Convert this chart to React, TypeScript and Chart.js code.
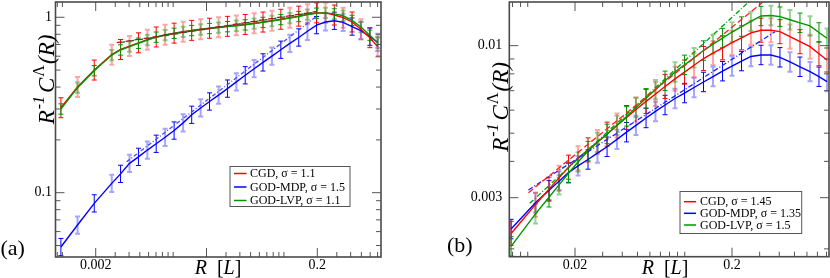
import React, { useEffect, useRef } from "react";
import { Chart, registerables } from "chart.js";

Chart.register(...registerables);

// ---------------- Panel (a) data ----------------
const rA = [0.00097, 0.00137, 0.00194, 0.00279, 0.00335, 0.00404, 0.00486, 0.00585, 0.00703, 0.00846, 0.0102, 0.0123, 0.0147, 0.0177, 0.0213, 0.0257, 0.0309, 0.0372, 0.0447, 0.0538, 0.0647, 0.0779, 0.0937, 0.113, 0.136, 0.163, 0.197, 0.237, 0.285, 0.342, 0.412, 0.495, 0.596, 0.701];
const cgdA = [0.305, 0.4, 0.5, 0.612, 0.655, 0.685, 0.715, 0.745, 0.772, 0.794, 0.812, 0.828, 0.842, 0.855, 0.866, 0.877, 0.888, 0.899, 0.91, 0.924, 0.939, 0.956, 0.974, 0.994, 1.015, 1.04, 1.06, 1.06, 1.03, 0.995, 0.94, 0.855, 0.765, 0.68];
const mdpA = [0.049, 0.0654, 0.0869, 0.113, 0.128, 0.147, 0.16, 0.175, 0.19, 0.207, 0.226, 0.25, 0.278, 0.304, 0.331, 0.36, 0.392, 0.428, 0.467, 0.509, 0.553, 0.601, 0.653, 0.71, 0.767, 0.832, 0.902, 0.94, 0.955, 0.935, 0.885, 0.84, 0.775, 0.72];
const lvpA = [0.3, 0.397, 0.496, 0.609, 0.651, 0.68, 0.711, 0.742, 0.77, 0.792, 0.81, 0.826, 0.84, 0.852, 0.863, 0.874, 0.884, 0.895, 0.905, 0.92, 0.935, 0.952, 0.97, 0.99, 1.01, 1.035, 1.055, 1.06, 1.045, 1.02, 0.96, 0.88, 0.79, 0.716];
const fitCgdRA = [0.0031, 0.2];
const fitCgdA = [0.716, 1.08];
const fitLvpRA = [0.0031, 0.2];
const fitLvpA = [0.712, 1.075];
const fitMdpRA = [0.0038, 0.2];
const fitMdpA = [0.15, 1.02];
const errA = [0.14, 0.12, 0.07];
const xTickLabelsA = [0.002, 0.2];
const yTickLabelsA = [0.1, 1];
const xMajorA = [0.002, 0.02, 0.2];
const yMajorA = [0.1, 1];
const legendA = ["CGD, σ = 1.1", "GOD-MDP, σ = 1.5", "GOD-LVP, σ = 1.1"];

// ---------------- Panel (b) data ----------------
const rB = [0.00783, 0.0112, 0.01366, 0.01582, 0.01818, 0.0209, 0.0242, 0.0278, 0.032, 0.037, 0.0426, 0.0489, 0.0567, 0.0651, 0.0749, 0.0867, 0.0997, 0.1146, 0.1317, 0.1514, 0.1741, 0.2, 0.23, 0.264, 0.306, 0.354, 0.404, 0.468, 0.542, 0.628, 0.716, 0.806];
const cgdB = [0.00226, 0.00284, 0.00321, 0.00351, 0.00382, 0.0041, 0.00438, 0.00466, 0.00496, 0.00531, 0.00566, 0.00603, 0.00643, 0.00682, 0.00724, 0.00769, 0.00811, 0.00856, 0.00903, 0.00943, 0.00983, 0.01024, 0.01064, 0.01107, 0.0113, 0.0113, 0.01117, 0.01074, 0.01032, 0.00992, 0.00938, 0.00893];
const mdpB = [0.00234, 0.00288, 0.00318, 0.00342, 0.00366, 0.00386, 0.00406, 0.00427, 0.00449, 0.00476, 0.00504, 0.00532, 0.00564, 0.00594, 0.00625, 0.00658, 0.00687, 0.00718, 0.0075, 0.00783, 0.00817, 0.00851, 0.00885, 0.00918, 0.00929, 0.00929, 0.00912, 0.00879, 0.00846, 0.00814, 0.00782, 0.00752];
const lvpB = [0.00204, 0.00264, 0.00301, 0.00332, 0.00364, 0.00398, 0.00434, 0.00465, 0.00497, 0.00532, 0.00571, 0.00613, 0.00659, 0.00706, 0.00757, 0.00812, 0.00859, 0.00909, 0.00962, 0.01012, 0.01062, 0.01114, 0.01163, 0.01212, 0.01265, 0.0127, 0.01258, 0.01228, 0.01198, 0.01169, 0.0111, 0.0106];
const fitCgdRB = [0.0101, 0.35];
const fitCgdB = [0.00312, 0.0148];
const fitMdpRB = [0.0101, 0.376];
const fitMdpB = [0.00319, 0.01117];
const fitLvpRB = [0.0103, 0.3];
const fitLvpB = [0.00287, 0.0153];
const errB = [0.1, 0.08, 0.08];
const xTickLabelsB = [0.02, 0.2];
const yTickLabelsB = [0.003, 0.01];
const xMajorB = [0.02, 0.2];
const yMajorB = [0.003, 0.01];
const legendB = ["CGD, σ = 1.45", "GOD-MDP, σ = 1.35", "GOD-LVP, σ = 1.5"];

const SERIF = "'Liberation Serif', 'Times New Roman', serif";
const COLORS = ["#ff0000", "#0000ff", "#009600"];
const PALE = ["rgba(255,40,40,0.42)", "rgba(40,40,255,0.42)", "rgba(0,150,0,0.42)"];

type Fit = { r: number[]; v: number[]; color: string; dash: number[]; offset?: number };
type Panel = {
  r: number[]; cgd: number[]; mdp: number[]; lvp: number[];
  fits: Fit[]; err: number[]; order: number[];
  xMin: number; xMax: number; yMin: number; yMax: number;
  xLabels: number[]; yLabels: number[]; xMajor: number[]; yMajor: number[];
  pad: { left: number; right: number; top: number; bottom: number };
  yAxisW: number; xAxisH: number; yTickPad: number;
  legend: string[];
  box: { x0: number; y0: number; x1: number; y1: number; rows: number[]; lx0: number; lx1: number; tx: number };
  yTitle: { x: number; y: number }; xTitle: { x: number; y: number };
  tag: string; tagPos: { x: number; y: number };
};

const panelA: Panel = {
  r: rA, cgd: cgdA, mdp: mdpA, lvp: lvpA, err: errA, order: [1, 2, 0],
  fits: [
    { r: fitCgdRA, v: fitCgdA, color: "#b01020", dash: [5, 4] },
    { r: fitLvpRA, v: fitLvpA, color: "#206020", dash: [4, 5], offset: 4.5 },
    { r: fitMdpRA, v: fitMdpA, color: "#4a4aff", dash: [4, 2, 1, 2] },
  ],
  xMin: 0.000867, xMax: 0.7516, yMin: 0.04299, yMax: 1.222,
  xLabels: xTickLabelsA, yLabels: yTickLabelsA, xMajor: xMajorA, yMajor: yMajorA,
  pad: { left: 0, right: 34, top: 2, bottom: 0 }, yAxisW: 55.5, xAxisH: 21, yTickPad: 3.5,
  legend: legendA,
  box: { x0: 230, y0: 166.5, x1: 350, y1: 206.5, rows: [173.5, 187, 200.5], lx0: 234, lx1: 246.5, tx: 250 },
  yTitle: { x: 54, y: 79.5 }, xTitle: { x: 218, y: 274 },
  tag: "(a)", tagPos: { x: 0.5, y: 255 },
};

const panelB: Panel = {
  r: rB, cgd: cgdB, mdp: mdpB, lvp: lvpB, err: errB, order: [1, 2, 0],
  fits: [
    { r: fitCgdRB, v: fitCgdB, color: "#ff2020", dash: [6, 3] },
    { r: fitMdpRB, v: fitMdpB, color: "#2020ff", dash: [5, 2, 1, 2] },
    { r: fitLvpRB, v: fitLvpB, color: "#00a000", dash: [5, 2, 1, 2] },
  ],
  xMin: 0.00763, xMax: 0.8296, yMin: 0.00188, yMax: 0.01413,
  xLabels: xTickLabelsB, yLabels: yTickLabelsB, xMajor: xMajorB, yMajor: yMajorB,
  pad: { left: 0, right: 1, top: 2, bottom: 0 }, yAxisW: 94.3, xAxisH: 21.3, yTickPad: 7,
  legend: legendB,
  box: { x0: 265, y0: 191.5, x1: 386.7, y1: 233.5, rows: [201.7, 213.3, 225], lx0: 269, lx1: 281, tx: 285 },
  yTitle: { x: 93, y: 107 }, xTitle: { x: 250, y: 274 },
  tag: "(b)", tagPos: { x: 32, y: 252 },
};

type Part = { t: string; font: string; dy?: number; gap?: number };
function drawParts(ctx: CanvasRenderingContext2D, parts: Part[], cx: number, base: number) {
  let total = 0;
  const ws = parts.map((p) => {
    ctx.font = p.font;
    const w = ctx.measureText(p.t).width + (p.gap || 0);
    total += w;
    return w;
  });
  let x = cx - total / 2;
  parts.forEach((p, i) => {
    ctx.font = p.font;
    ctx.fillText(p.t, x, base + (p.dy || 0));
    x += ws[i];
  });
}

function makeDecor(P: Panel) {
  return {
    id: "decor",
    beforeDatasetsDraw(chart: any) {
      const { ctx, chartArea: a } = chart;
      const xs = chart.scales.x;
      const ys = chart.scales.y;
      ctx.save();
      ctx.beginPath();
      ctx.rect(a.left, a.top, a.right - a.left, a.bottom - a.top);
      ctx.clip();
      [1, 0, 2].forEach((k) => {
        const ds = chart.data.datasets[k];
        ds.data.forEach((pt: any, i: number) => {
          const px = xs.getPixelForValue(pt.x);
          const yt = ys.getPixelForValue(pt.y * (1 + ds.errFrac));
          const yb = ys.getPixelForValue(pt.y / (1 + ds.errFrac));
          const pale = i % 2 === 1;
          ctx.strokeStyle = pale ? ds.paleColor : ds.borderColor;
          ctx.lineWidth = pale ? 2 : 1;
          ctx.beginPath();
          ctx.moveTo(px, yt);
          ctx.lineTo(px, yb);
          ctx.moveTo(px - 2.5, yt);
          ctx.lineTo(px + 2.5, yt);
          ctx.moveTo(px - 2.5, yb);
          ctx.lineTo(px + 2.5, yb);
          ctx.stroke();
        });
      });
      ctx.restore();
    },
    afterDraw(chart: any) {
      const { ctx, chartArea: a } = chart;
      const xs = chart.scales.x;
      const ys = chart.scales.y;
      ctx.save();
      // inward ticks on all four sides
      ctx.strokeStyle = "#555";
      ctx.lineWidth = 1;
      const isMajor = (list: number[], v: number) => list.some((m) => Math.abs(m - v) / m < 1e-6);
      const eachTick = (sc: any, majors: number[], fn: (p: number, len: number) => void) => {
        const lo = Math.floor(Math.log10(sc.min));
        const hi = Math.ceil(Math.log10(sc.max));
        for (let n = lo; n <= hi; n++) {
          for (let k = 1; k <= 9; k++) {
            const v = k * Math.pow(10, n);
            if (v < sc.min * 0.9999 || v > sc.max * 1.0001) continue;
            fn(sc.getPixelForValue(v), isMajor(majors, v) ? 9 : 5);
          }
        }
      };
      ctx.beginPath();
      eachTick(xs, P.xMajor, (p, len) => {
        ctx.moveTo(p, a.bottom);
        ctx.lineTo(p, a.bottom - len);
        ctx.moveTo(p, a.top);
        ctx.lineTo(p, a.top + len);
      });
      eachTick(ys, P.yMajor, (p, len) => {
        ctx.moveTo(a.left, p);
        ctx.lineTo(a.left + len, p);
        ctx.moveTo(a.right, p);
        ctx.lineTo(a.right - len, p);
      });
      ctx.stroke();
      // frame
      ctx.strokeStyle = "#4a4a4a";
      ctx.lineWidth = 1.6;
      ctx.strokeRect(a.left, a.top, a.right - a.left, a.bottom - a.top);

      // legend
      const b = P.box;
      ctx.fillStyle = "#fff";
      ctx.fillRect(b.x0, b.y0, b.x1 - b.x0, b.y1 - b.y0);
      ctx.strokeStyle = "#555";
      ctx.lineWidth = 1;
      ctx.strokeRect(b.x0, b.y0, b.x1 - b.x0, b.y1 - b.y0);
      ctx.font = `12px ${SERIF}`;
      ctx.textBaseline = "middle";
      ctx.textAlign = "left";
      P.legend.forEach((txt, k) => {
        const y = b.rows[k];
        ctx.strokeStyle = COLORS[k];
        ctx.lineWidth = 1.5;
        ctx.beginPath();
        ctx.moveTo(b.lx0, y);
        ctx.lineTo(b.lx1, y);
        ctx.stroke();
        ctx.fillStyle = "#000";
        ctx.fillText(txt, b.tx, y + 0.5);
      });

      // titles
      ctx.fillStyle = "#000";
      ctx.textBaseline = "alphabetic";
      ctx.textAlign = "left";
      ctx.save();
      ctx.translate(P.yTitle.x, P.yTitle.y);
      ctx.rotate(-Math.PI / 2);
      drawParts(ctx, [
        { t: "R", font: `italic 23px ${SERIF}`, gap: 1 },
        { t: "-1", font: `italic 16px ${SERIF}`, dy: -10, gap: 3 },
        { t: "C", font: `italic 23px ${SERIF}`, gap: 1 },
        { t: "Λ", font: `16px ${SERIF}`, dy: -10, gap: 1 },
        { t: "(R)", font: `italic 23px ${SERIF}` },
      ], 0, 0);
      ctx.restore();
      drawParts(ctx, [
        { t: "R", font: `italic 20px ${SERIF}` },
        { t: "  [", font: `20px ${SERIF}` },
        { t: "L", font: `italic 20px ${SERIF}` },
        { t: "]", font: `20px ${SERIF}` },
      ], P.xTitle.x, P.xTitle.y);
      ctx.font = `22px ${SERIF}`;
      ctx.fillText(P.tag, P.tagPos.x, P.tagPos.y);
      ctx.restore();
    },
  };
}

function buildChart(canvas: HTMLCanvasElement, P: Panel) {
  const series = [P.cgd, P.mdp, P.lvp];
  const datasets: any[] = series.map((ys, k) => ({
    label: P.legend[k],
    data: P.r.map((x, i) => ({ x, y: ys[i] })),
    borderColor: COLORS[k],
    backgroundColor: COLORS[k],
    borderWidth: 1.4,
    pointRadius: 0,
    fill: false,
    tension: 0,
    order: P.order[k],
    errFrac: P.err[k],
    paleColor: PALE[k],
  }));
  P.fits.forEach((f) =>
    datasets.push({
      label: "fit",
      data: f.r.map((x, i) => ({ x, y: f.v[i] })),
      borderColor: f.color,
      borderWidth: 1.3,
      borderDash: f.dash,
      borderDashOffset: f.offset || 0,
      pointRadius: 0,
      fill: false,
      order: -1,
    })
  );
  const tickFont = { family: SERIF, size: 14 };
  const zeroPad = (s: any) => {
    s.paddingLeft = 0;
    s.paddingRight = 0;
    s.paddingTop = 0;
    s.paddingBottom = 0;
  };
  return new Chart(canvas, {
    type: "line",
    data: { datasets },
    options: {
      animation: false,
      responsive: false,
      devicePixelRatio: 1,
      events: [],
      layout: { padding: P.pad },
      plugins: { legend: { display: false }, tooltip: { enabled: false } },
      scales: {
        x: {
          type: "logarithmic",
          position: "bottom",
          min: P.xMin,
          max: P.xMax,
          grid: { display: false, drawTicks: false },
          border: { display: false },
          ticks: { font: tickFont, color: "#000", padding: 0, autoSkip: false, maxRotation: 0, minRotation: 0, callback: (v: any) => String(v) },
          afterBuildTicks: (s: any) => {
            s.ticks = P.xLabels.map((v) => ({ value: v }));
          },
          afterFit: (s: any) => {
            s.height = P.xAxisH;
            zeroPad(s);
          },
        },
        y: {
          type: "logarithmic",
          position: "left",
          min: P.yMin,
          max: P.yMax,
          grid: { display: false, drawTicks: false },
          border: { display: false },
          ticks: { font: tickFont, color: "#000", padding: P.yTickPad, autoSkip: false, callback: (v: any) => String(v) },
          afterBuildTicks: (s: any) => {
            s.ticks = P.yLabels.map((v) => ({ value: v }));
          },
          afterFit: (s: any) => {
            s.width = P.yAxisW;
            zeroPad(s);
          },
        },
      },
    } as any,
    plugins: [makeDecor(P) as any],
  });
}

export default function App() {
  const refA = useRef<HTMLCanvasElement>(null);
  const refB = useRef<HTMLCanvasElement>(null);
  useEffect(() => {
    const ca = buildChart(refA.current!, panelA);
    const cb = buildChart(refB.current!, panelB);
    return () => {
      ca.destroy();
      cb.destroy();
    };
  }, []);
  return (
    <div style={{ position: "fixed", left: 0, top: 0, width: 830, height: 278, background: "#fff", overflow: "hidden" }}>
      <canvas ref={refA} width={415} height={278} style={{ position: "absolute", left: 0, top: 0 }} />
      <canvas ref={refB} width={415} height={278} style={{ position: "absolute", left: 415, top: 0 }} />
    </div>
  );
}
